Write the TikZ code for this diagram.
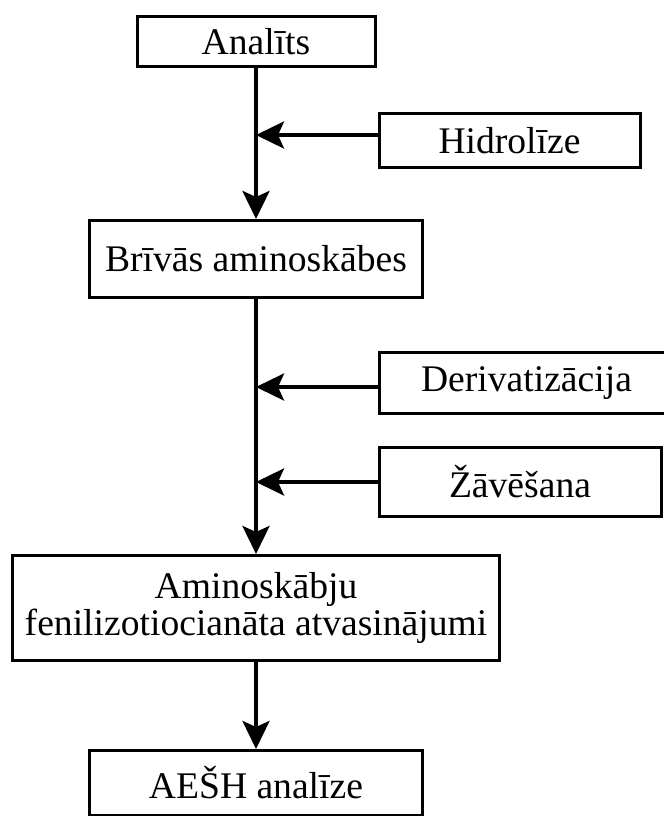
\documentclass[tikz,border=0pt]{standalone}
\usepackage{fontspec}
\setmainfont{Liberation Serif}
\usetikzlibrary{arrows.meta,positioning,calc}

\begin{document}
\begin{tikzpicture}[
  x=0.5pt,y=-0.5pt,
  font=\fontsize{18.8}{18.8}\selectfont,
  stepbox/.style 2 args={draw=black,line width=1.5pt,minimum width=#1,minimum height=#2,
    align=center,inner sep=2pt},
  flow/.style={-{Stealth[length=14pt,width=13.5pt,inset=3pt]},line width=2pt,draw=black}
]
\useasboundingbox (0,0) rectangle (664,816);
\clip (0,0) rectangle (664,816);
% main column
\node[stepbox={119pt}{25pt}] (ana) at (256,41.5) {Analīts};
\node[stepbox={166.5pt}{38.5pt}] (briv) at (256,259) {Brīvās aminoskābes};
\node[stepbox={243.5pt}{52.5pt}] (amino) at (256,608) {Aminoskābju\\fenilizotiocianāta atvasinājumi};
\node[stepbox={166.5pt}{32.5pt}] (aesh) at (256,783) {AEŠH analīze};
% side steps
\node[stepbox={130.5pt}{27pt},anchor=west] (hid) at (377.5,140.5) {Hidrolīze};
\node[stepbox={147.5pt}{30.5pt},anchor=west] (deriv) at (377.5,383) {Derivatizācija};
\node[stepbox={141pt}{34.5pt},anchor=west] (zav) at (377.5,482) {Žāvēšana};
\coordinate (j1) at (256,135);
\coordinate (j2) at (256,387);
\coordinate (j3) at (256,482);
\foreach \source/\target in {ana/briv,briv/amino,amino/aesh}
  \draw[flow] (\source) -- (\target);
\foreach \source/\target in {hid/j1,deriv/j2,zav/j3}
  \draw[flow] (\source.west |- \target) -- (\target);
\end{tikzpicture}
\end{document}
